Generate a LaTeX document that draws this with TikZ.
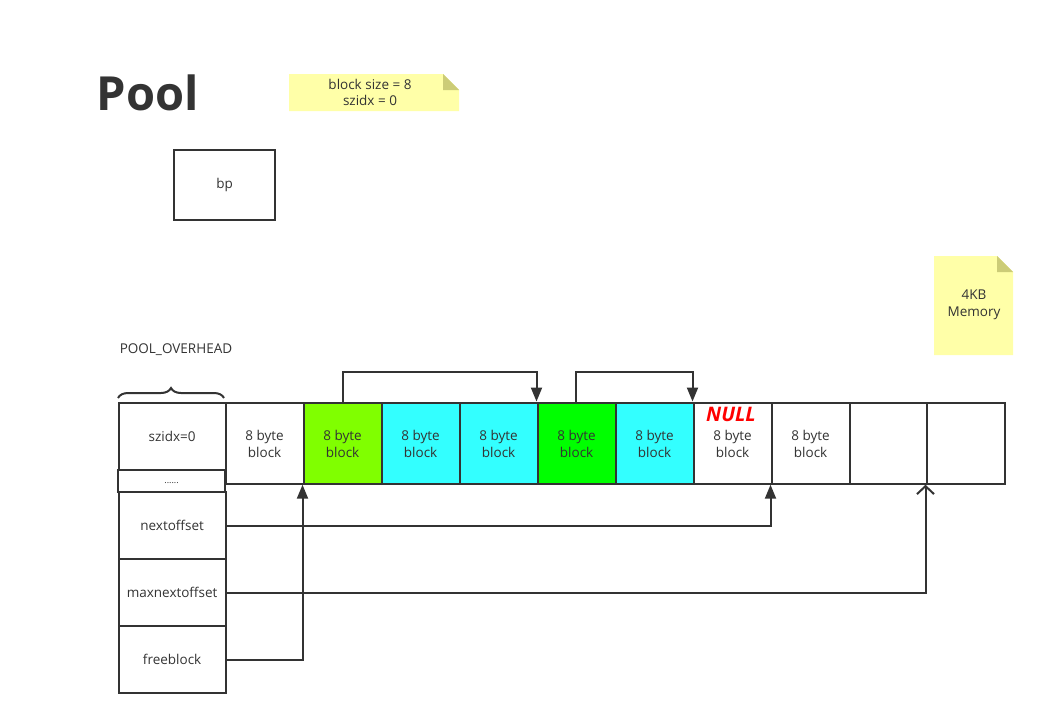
\documentclass[tikz,border=0pt]{standalone}
\usepackage{fontspec}
\setmainfont{Open Sans}
\usetikzlibrary{arrows.meta,decorations.pathreplacing}
\definecolor{ink}{HTML}{333333}
\definecolor{notey}{HTML}{FFFFA8}
\definecolor{notef}{HTML}{CCCC77}
\definecolor{gA}{HTML}{80FF00}
\definecolor{gB}{HTML}{00FF00}
\definecolor{cy}{HTML}{33FFFF}
\begin{document}
\begin{tikzpicture}[x=1pt,y=-1pt,
  every node/.style={text=ink,font=\fontsize{13.5}{16.5}\selectfont,inner sep=0pt,align=center},
  cell/.style={draw=ink,line width=2.2pt,anchor=north west},
  conn/.style={draw=ink,line width=2pt,-{Triangle[length=14pt,width=11pt]}},
  oconn/.style={draw=ink,line width=2pt,-{Straight Barb[length=8pt,width=17pt,line width=2pt]}}]
\useasboundingbox (0,0) rectangle (1046,724);

\node[font=\fontsize{47}{50}\selectfont\bfseries] (title) at (148,93) {Pool};

% note 1
\fill[notey] (289,74) -- (443,74) -- (459,90) -- (459,111) -- (289,111) -- cycle;
\fill[notef] (443,74) -- (459,90) -- (443,90) -- cycle;
\node (n1) at (370,92.5) {block size = 8\\szidx = 0};

% note 2
\fill[notey] (934,256) -- (997,256) -- (1013,272) -- (1013,355) -- (934,355) -- cycle;
\fill[notef] (997,256) -- (1013,272) -- (997,272) -- cycle;
\node (n2) at (974,305) {4KB\\Memory};

\node[cell,minimum width=101pt,minimum height=70pt] (bp) at (173,149) {};
\node at (bp.center) {bp};

\node (po) at (176,350) {POOL\_OVERHEAD};
\draw[ink,line width=2pt,decorate,decoration={brace,amplitude=10pt}] (118,398) -- (224,398);

% left column
\node[cell,minimum width=107pt,minimum height=67pt] (sz) at (117.5,402) {};
\node at (sz.center) {szidx=0};
\node[cell,minimum width=107pt,minimum height=22pt] (dots) at (117,469) {};
\node[font=\fontsize{9}{10}\selectfont] at ([yshift=-2pt]dots.center) {......};
\node[cell,minimum width=107pt,minimum height=67pt] (nx) at (117.5,491) {};
\node at (nx.center) {nextoffset};
\node[cell,minimum width=107pt,minimum height=67pt] (mx) at (117.5,558) {};
\node at (mx.center) {maxnextoffset};
\node[cell,minimum width=107pt,minimum height=67pt] (fb) at (117.5,625) {};
\node at (fb.center) {freeblock};

% block row
\foreach \i/\x/\w/\c/\t in {1/224.5/78/white/{8 byte\\block},2/302.5/78/gA/{8 byte\\block},3/380.5/78/cy/{8 byte\\block},4/458.5/78/cy/{8 byte\\block},5/536.5/78/gB/{8 byte\\block},6/614.5/78/cy/{8 byte\\block},7/692.5/78/white/{8 byte\\block},8/770.5/78/white/{8 byte\\block},9/848.5/77/white/{},10/925.5/78/white/{}}{
  \node[cell,fill=\c,minimum width=\w pt,minimum height=81pt] (b\i) at (\x,401.5) {};
  \node at ([yshift=-1pt]b\i.center) {\t};
}
\node[text=red,font=\fontsize{20}{22}\selectfont\bfseries\itshape] (null) at (731,414) {NULL};

% arrows on top
\draw[conn] (b2.north) -- ++(0,-30) -| (b5.north west);
\draw[conn] ([xshift=-0.5pt]b5.north) -- ++(0,-30) -| (b7.north west);

% arrows from left column
\draw[conn] (nx.east) -| (b8.south west);
\draw[oconn] (mx.east) -| (b10.south west);
\draw[conn] (fb.east) -| (b2.south west);
\end{tikzpicture}
\end{document}
